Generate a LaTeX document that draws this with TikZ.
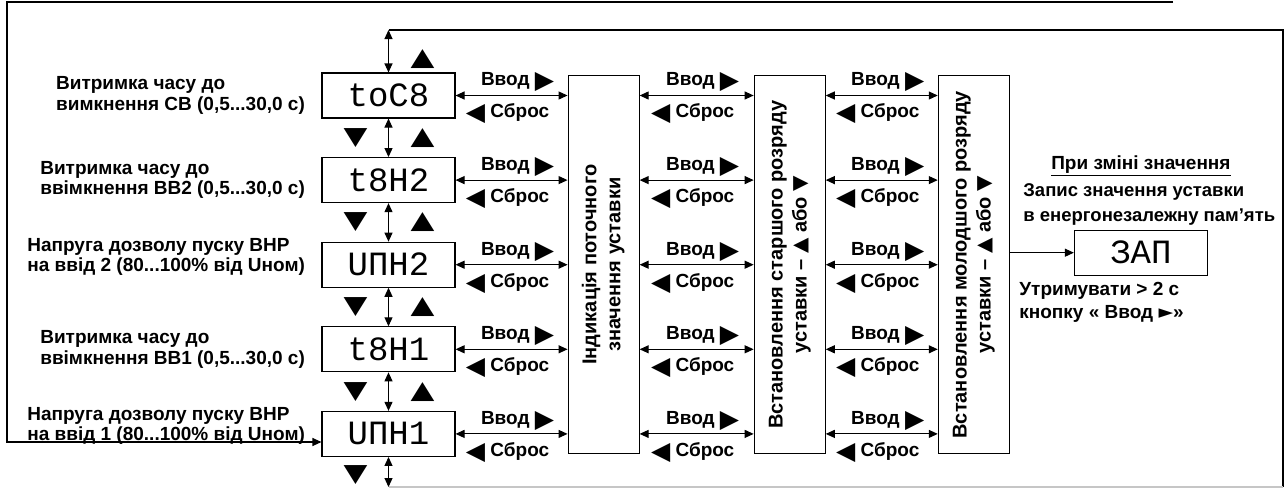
\documentclass[tikz,border=0pt]{standalone}
\usepackage{fontspec}
\usepackage{graphicx}
\setmainfont{Liberation Sans}
\newfontfamily\symfont{DejaVu Sans}
\newfontfamily\segfont{Liberation Mono}
\usetikzlibrary{arrows.meta,positioning,calc}
\newcommand{\rtri}{{\symfont\fontsize{25}{25}\selectfont\raisebox{-3pt}{▶}}}
\newcommand{\ltri}{{\symfont\fontsize{25}{25}\selectfont\raisebox{-3pt}{◀}}}
\newcommand{\utri}{{\symfont ▲}}
\newcommand{\dtri}{{\symfont ▼}}
\newcommand{\vlabel}[1]{\rotatebox{90}{\fontsize{20}{24}\selectfont\begin{tabular}{@{}c@{}}#1\end{tabular}}}

\begin{document}
\begin{tikzpicture}[x=1pt,y=-1pt,line width=1.1pt,
  font=\bfseries\fontsize{19}{20.5}\selectfont,
  disp/.style={draw,minimum width=133pt,minimum height=45pt,inner sep=0pt,font=\segfont\fontsize{34}{34}\selectfont},
  blk/.style={draw,minimum width=71pt,minimum height=378pt,inner sep=0pt},
  lbl/.style={align=left,inner sep=0pt},
  tri/.style={inner sep=0pt,font=\symfont\fontsize{31}{31}\selectfont},
  vv/.style={above=2pt,inner sep=1pt},
  sb/.style={below=7pt,inner sep=1pt},
  arr/.style={-{Triangle[length=9pt,width=8pt]}},
  darr/.style={{Triangle[length=9pt,width=8pt]}-{Triangle[length=9pt,width=8pt]}}]
\useasboundingbox (0,0) rectangle (1285,488);
% indicator column
\node[disp] (d1) at (388.5,95.5) {toC8};
\node[disp,below=38.5pt of d1] (d2) {t8H2};
\node[disp,below=38.5pt of d2] (d3) {UПH2};
\node[disp,below=38.5pt of d3] (d4) {t8H1};
\node[disp,below=38.5pt of d4] (d5) {UПH1};
\node[lbl,left=16pt of d1] (l1) {Витримка часу до\\вимкнення СВ (0,5...30,0 с)};
\node[lbl,left=16pt of d2] (l2) {Витримка часу до\\ввімкнення ВВ2 (0,5...30,0 с)};
\node[lbl,left=16pt of d3,yshift=8pt] (l3) {Напруга дозволу пуску ВНР\\на ввід 2 (80...100\% від Uном)};
\node[lbl,left=16pt of d4] (l4) {Витримка часу до\\ввімкнення ВВ1 (0,5...30,0 с)};
\node[lbl,left=16pt of d5,yshift=8pt] (l5) {Напруга дозволу пуску ВНР\\на ввід 1 (80...100\% від Uном)};
% setting blocks
\node[blk,right=112pt of d3] (ind) {\vlabel{Індикація поточного\\значення уставки}};
\node[blk,right=114pt of ind] (hi) {\vlabel{Встановлення старшого розряду\\уставки – \utri{} або \dtri}};
\node[blk,right=112pt of hi] (lo) {\vlabel{Встановлення молодшого розряду\\уставки – \utri{} або \dtri}};
\node[disp,right=64pt of lo,yshift=12pt] (zap) {ЗАП};
\node (chg) at ($(zap)+(0,-87)$) {\underline{При зміні значення}};
\node[lbl,anchor=west,font=\bfseries\fontsize{18.5}{24.5}\selectfont] (rec) at ($(zap.west)+(-51,-48)$) {Запис значення уставки\\в енергонезалежну пам'ять};
\node[lbl,anchor=north west,font=\bfseries\fontsize{19}{23}\selectfont] (hold) at ($(zap.south west)+(-55,6)$) {Утримувати > 2 с\\кнопку « Ввод {\symfont ►}»};
% up / down keys
\node[tri] (up0) at ($(d1.north)+(34,-13)$) {\scalebox{1}[0.8]{▲}};
\node[tri] (dn1) at ($(d1.south)!0.5!(d2.north)+(-33,0)$) {\scalebox{1}[0.8]{▼}};
\node[tri] (up1) at ($(d1.south)!0.5!(d2.north)+(34,0)$) {\scalebox{1}[0.8]{▲}};
\node[tri] (dn2) at ($(d2.south)!0.5!(d3.north)+(-33,0)$) {\scalebox{1}[0.8]{▼}};
\node[tri] (up2) at ($(d2.south)!0.5!(d3.north)+(34,0)$) {\scalebox{1}[0.8]{▲}};
\node[tri] (dn3) at ($(d3.south)!0.5!(d4.north)+(-33,0)$) {\scalebox{1}[0.8]{▼}};
\node[tri] (up3) at ($(d3.south)!0.5!(d4.north)+(34,0)$) {\scalebox{1}[0.8]{▲}};
\node[tri] (dn4) at ($(d4.south)!0.5!(d5.north)+(-33,0)$) {\scalebox{1}[0.8]{▼}};
\node[tri] (up4) at ($(d4.south)!0.5!(d5.north)+(34,0)$) {\scalebox{1}[0.8]{▲}};
\node[tri] (dn5) at ($(d5.south)+(-33,18)$) {\scalebox{1}[0.8]{▼}};
\coordinate (topy) at (0,30);
\coordinate (boty) at (0,487);
\coordinate (rc) at (1283,487);
\coordinate (back) at (1173,2);
\coordinate (in5) at (300,442);
% vertical scrolling
\draw[darr] (d1.north |- topy) -- (d1.north);
\draw[darr] (d1) -- (d2);
\draw[darr] (d2) -- (d3);
\draw[darr] (d3) -- (d4);
\draw[darr] (d4) -- (d5);
\draw[darr] (d5) -- (d5.south |- boty);
\draw (d1.north |- topy) -| (rc);
\draw[gray!45] (rc) -- (d5.south |- boty);
\draw[arr] (back) -- (7,2) -- (7,442) -- (d5.west |- in5);
% Ввод / Сброс
\draw[darr] (d1.east) -- node[vv,xshift=6pt]{Ввод \rtri} node[sb,xshift=-4pt]{\ltri{} Сброс} (d1 -| ind.west);
\draw[darr] (d2.east) -- node[vv,xshift=6pt]{Ввод \rtri} node[sb,xshift=-4pt]{\ltri{} Сброс} (d2 -| ind.west);
\draw[darr] (d3.east) -- node[vv,xshift=6pt]{Ввод \rtri} node[sb,xshift=-4pt]{\ltri{} Сброс} (d3 -| ind.west);
\draw[darr] (d4.east) -- node[vv,xshift=6pt]{Ввод \rtri} node[sb,xshift=-4pt]{\ltri{} Сброс} (d4 -| ind.west);
\draw[darr] (d5.east) -- node[vv,xshift=6pt]{Ввод \rtri} node[sb,xshift=-4pt]{\ltri{} Сброс} (d5 -| ind.west);
\draw[darr] (d1 -| ind.east) -- node[vv,xshift=6pt]{Ввод \rtri} node[sb,xshift=-4pt]{\ltri{} Сброс} (d1 -| hi.west);
\draw[darr] (d2 -| ind.east) -- node[vv,xshift=6pt]{Ввод \rtri} node[sb,xshift=-4pt]{\ltri{} Сброс} (d2 -| hi.west);
\draw[darr] (d3 -| ind.east) -- node[vv,xshift=6pt]{Ввод \rtri} node[sb,xshift=-4pt]{\ltri{} Сброс} (d3 -| hi.west);
\draw[darr] (d4 -| ind.east) -- node[vv,xshift=6pt]{Ввод \rtri} node[sb,xshift=-4pt]{\ltri{} Сброс} (d4 -| hi.west);
\draw[darr] (d5 -| ind.east) -- node[vv,xshift=6pt]{Ввод \rtri} node[sb,xshift=-4pt]{\ltri{} Сброс} (d5 -| hi.west);
\draw[darr] (d1 -| hi.east) -- node[vv,xshift=6pt]{Ввод \rtri} node[sb,xshift=-4pt]{\ltri{} Сброс} (d1 -| lo.west);
\draw[darr] (d2 -| hi.east) -- node[vv,xshift=6pt]{Ввод \rtri} node[sb,xshift=-4pt]{\ltri{} Сброс} (d2 -| lo.west);
\draw[darr] (d3 -| hi.east) -- node[vv,xshift=6pt]{Ввод \rtri} node[sb,xshift=-4pt]{\ltri{} Сброс} (d3 -| lo.west);
\draw[darr] (d4 -| hi.east) -- node[vv,xshift=6pt]{Ввод \rtri} node[sb,xshift=-4pt]{\ltri{} Сброс} (d4 -| lo.west);
\draw[darr] (d5 -| hi.east) -- node[vv,xshift=6pt]{Ввод \rtri} node[sb,xshift=-4pt]{\ltri{} Сброс} (d5 -| lo.west);
\draw[arr] (zap.west -| lo.east) -- (zap.west);
\end{tikzpicture}
\end{document}
